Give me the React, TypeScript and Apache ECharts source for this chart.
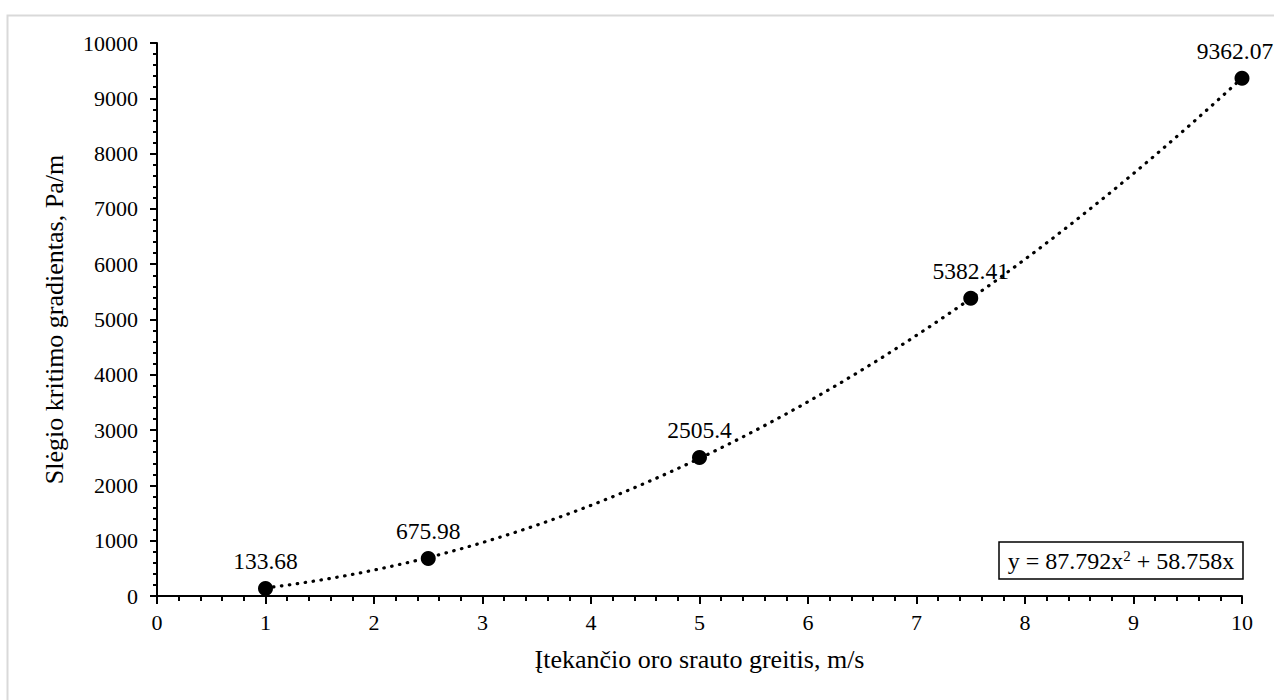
import React, { useEffect, useRef } from "react";
import * as echarts from "echarts";

const xValues = [1, 2.5, 5, 7.5, 10];
const yValues = [133.68, 675.98, 2505.4, 5382.41, 9362.07];
// Trendline coefficients as printed in the chart: y = a*x^2 + b*x
const trendCoeffs = [87.792, 58.758];
const trendRange = [1, 10];
const equationText = "y = 87.792x{sup|2} + 58.758x";
const xAxisName = "Įtekančio oro srauto greitis, m/s";
const yAxisName = "Slėgio kritimo gradientas, Pa/m";

const FONT = "Liberation Serif";

export default function App() {
  const ref = useRef<HTMLDivElement>(null);
  useEffect(() => {
    if (!ref.current) return;
    const chart = echarts.init(ref.current, null, { renderer: "svg" });
    const trend: number[][] = [];
    const steps = 90;
    for (let i = 0; i <= steps; i++) {
      const x = trendRange[0] + ((trendRange[1] - trendRange[0]) * i) / steps;
      trend.push([x, trendCoeffs[0] * x * x + trendCoeffs[1] * x]);
    }
    const lastIdx = xValues.length - 1;
    const points = xValues.map((x, i) =>
      i === lastIdx
        ? { value: [x, yValues[i]], label: { offset: [-7, 0] } }
        : { value: [x, yValues[i]] }
    );
    const txt = (size: number) => ({ fontFamily: FONT, fontSize: size, color: "#000000", fontWeight: "normal" as const });
    chart.setOption({
      animation: false,
      backgroundColor: "#ffffff",
      textStyle: { fontFamily: FONT, fontSize: 18, color: "#000000" },
      grid: { left: 157, right: 32, top: 43, bottom: 104, containLabel: false },
      xAxis: {
        type: "value",
        min: 0,
        max: 10,
        interval: 1,
        name: xAxisName,
        nameLocation: "middle",
        nameGap: 50,
        nameTextStyle: { ...txt(26) },
        axisLine: { show: true, onZero: false, lineStyle: { color: "#000", width: 2 } },
        axisTick: { show: true, inside: false, length: 8, lineStyle: { color: "#000", width: 2 } },
        minorTick: { show: true, splitNumber: 5, length: 5, lineStyle: { color: "#000", width: 2 } },
        axisLabel: { ...txt(22), margin: 15, formatter: (v: number) => String(v) },
        splitLine: { show: false },
      },
      yAxis: {
        type: "value",
        min: 0,
        max: 10000,
        interval: 1000,
        name: yAxisName,
        nameLocation: "middle",
        nameGap: 90,
        nameTextStyle: { ...txt(26) },
        axisLine: { show: true, lineStyle: { color: "#000", width: 2 } },
        axisTick: { show: true, inside: false, length: 7, lineStyle: { color: "#000", width: 2 } },
        minorTick: { show: true, splitNumber: 5, length: 4, lineStyle: { color: "#000", width: 2 } },
        axisLabel: { ...txt(22), margin: 19, formatter: (v: number) => String(v) },
        splitLine: { show: false },
      },
      graphic: [
        {
          type: "rect",
          left: 5,
          top: 13,
          shape: { width: 1300, height: 720 },
          style: { fill: "none", stroke: "#d9d9d9", lineWidth: 2 },
          silent: true,
          z: -10,
        },
        {
          type: "rect",
          x: 999,
          y: 542,
          shape: { width: 244, height: 37 },
          style: { fill: "#ffffff", stroke: "#000000", lineWidth: 1.5 },
          z: 10,
        },
        {
          type: "text",
          x: 1121,
          y: 561,
          style: {
            text: equationText,
            fontFamily: FONT,
            fontSize: 24,
            fill: "#000",
            align: "center",
            verticalAlign: "middle",
            rich: {
              sup: { fontFamily: FONT, fontSize: 15, padding: [0, 0, 10, 0] },
            },
          },
          z: 11,
        },
      ],
      series: [
        {
          type: "line",
          data: trend,
          showSymbol: false,
          symbol: "none",
          smooth: false,
          lineStyle: { color: "#000", width: 3.2, type: [0.5, 7.5], cap: "round" },
          silent: true,
          z: 2,
        },
        {
          type: "scatter",
          data: points,
          symbol: "circle",
          symbolSize: 15,
          itemStyle: { color: "#000000", opacity: 1 },
          label: {
            show: true,
            position: "top",
            distance: 8,
            ...txt(23.5),
            formatter: (p: any) => String(p.value[1]),
          },
          z: 3,
        },
      ],
    });
    return () => chart.dispose();
  }, []);
  return (
    <div
      ref={ref}
      style={{ position: "absolute", left: 0, top: 0, width: 1274, height: 700 }}
    />
  );
}
